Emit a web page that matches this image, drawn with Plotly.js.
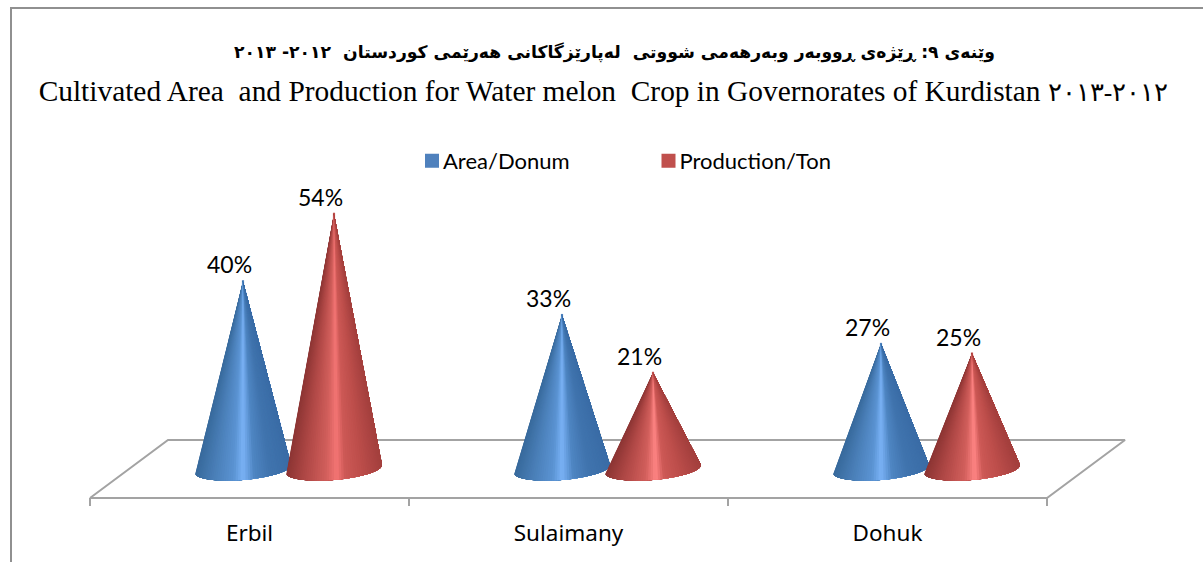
<!DOCTYPE html>
<html><head><meta charset="utf-8">
<script src="https://cdn.plot.ly/plotly-3.0.1.min.js"></script>
<style>html,body{margin:0;padding:0;background:#fff;overflow:hidden}</style>
</head><body><div id="chart" style="width:1203px;height:562px"></div>
<script>
const categories = ['Erbil', 'Sulaimany', 'Dohuk'];
const areaValues = [40, 33, 27];
const productionValues = [54, 21, 25];
const seriesNames = ['Area/Donum', 'Production/Ton'];
const titleKurdish = 'وێنەی ٩: ڕێژەی ڕووبەر وبەرهەمی شووتی\u00A0\u00A0لەپارێزگاکانی هەرێمی کوردستان\u00A0\u00A0٢٠١٢- ٢٠١٣';
const titleEnglish = 'Cultivated Area\u00A0\u00A0and Production for Water melon\u00A0\u00A0Crop in Governorates of Kurdistan <span style="font-size:25.5px">٢٠١٢-٢٠١٣</span>';

const W = 1203, H = 562;
const pxPerCat = 319, pxPerVal = 4.82;
const x0px = 90, zeroPx = 474;
const L = 30, R = 1180, T = 190, B = 510;
const xRange = [(L - x0px) / pxPerCat, (R - x0px) / pxPerCat];
const yRange = [(zeroPx - B) / pxPerVal, (zeroPx - T) / pxPerVal];

const slots = [153 / pxPerCat, 244 / pxPerCat];
const halfW = 48 / pxPerCat, ellB = 11 / pxPerVal, ellTilt = 4 / pxPerVal, baseVal = 5 / pxPerVal;

const ramps = [
  [[0,'#3a6ca6'],[0.22,'#4074ae'],[0.38,'#4e85c2'],[0.5,'#7ab2f6'],[0.6,'#5a93d2'],[0.8,'#4a7fb8'],[1,'#386a9c']],
  [[0,'#a33f3d'],[0.22,'#bd4e4b'],[0.38,'#cc5855'],[0.47,'#f47574'],[0.58,'#d25f5c'],[0.8,'#b04846'],[1,'#8c3534']],
  [[0,'#a33f3d'],[0.22,'#bd4e4b'],[0.38,'#cc5855'],[0.47,'#ff8584'],[0.58,'#d25f5c'],[0.8,'#b04846'],[1,'#8c3534']]
];
function hex(c){return [1,3,5].map(i=>parseInt(c.substr(i,2),16));}
function colorAt(r,f){
  for(let i=1;i<r.length;i++){ if(f<=r[i][0]){
    const a=hex(r[i-1][1]),b=hex(r[i][1]),k=(f-r[i-1][0])/(r[i][0]-r[i-1][0]);
    return 'rgb('+a.map((v,j)=>Math.round(v+(b[j]-v)*k)).join(',')+')';
  }}
  return r[r.length-1][1];
}
const line = {color:'#a3a3a3', width:2};
const traces = [];
const depthX = 78 / pxPerCat, frontV = (zeroPx - 498) / pxPerVal, backV = (zeroPx - 440) / pxPerVal;
const n = categories.length;
traces.push({type:'scatter',mode:'lines',x:[0,depthX,n+depthX,n,0],y:[frontV,backV,backV,frontV,frontV],line,showlegend:false,hoverinfo:'skip'});
for(let i=0;i<=n;i++){
  traces.push({type:'scatter',mode:'lines',x:[i,i],y:[frontV,frontV-8/pxPerVal],line,showlegend:false,hoverinfo:'skip'});
}
const series = [areaValues, productionValues];
const swatch = ['#4f81bd','#c0504d'];
series.forEach((vals,s)=>{
  traces.push({type:'bar',name:seriesNames[s],x:vals.map((v,i)=>i+slots[s]),y:vals,width:0.0005,
    marker:{color:swatch[s],line:{color:swatch[s],width:2}},hoverinfo:'skip'});
});
const STRIPS = 60;
series.forEach((vals,s)=>{
  vals.forEach((v,i)=>{
    const cx = i + slots[s];
    const ramp = (s===1 && v<30) ? ramps[2] : ramps[s];
    for(let k=0;k<STRIPS;k++){
      // each slice reaches the far edge, the next one paints over it: no seams
      const xs=[cx], ys=[v];
      for(let j=k;j<=STRIPS;j+=1){
        const t = Math.PI*(1 - j/STRIPS);
        xs.push(cx+halfW*Math.cos(t));
        ys.push(baseVal - ellB*Math.sin(t) + ellTilt*Math.cos(t));
      }
      xs.push(cx); ys.push(v);
      const f = (1-Math.cos(Math.PI*(1-(k+0.5)/STRIPS)))/2;
      traces.push({type:'scatter',mode:'lines',x:xs,y:ys,fill:'toself',fillcolor:colorAt(ramp,f),
        line:{width:0},showlegend:false,hoverinfo:'skip'});
    }
  });
});
const annotations = [];
series.forEach((vals,s)=>vals.forEach((v,i)=>annotations.push({
  x:i+slots[s],y:v,text:v+'%',showarrow:false,xshift:-14,yanchor:'bottom',yshift:1,
  font:{family:'Lato, sans-serif',size:23,color:'#000'}
})));
annotations.push({xref:'paper',yref:'paper',xanchor:'center',yanchor:'middle',
  x:(615-L)/(R-L),y:(B-52)/(B-T),text:titleKurdish,showarrow:false,
  font:{family:'"DejaVu Sans", sans-serif',size:17.2,color:'#000',weight:700}});

const px=v=>(v-L)/(R-L), py=v=>(B-v)/(B-T);
const shapes=[
 {type:'line',xref:'paper',yref:'paper',x0:px(10),x1:px(1203),y0:py(8),y1:py(8),line:{color:'#909090',width:2}},
 {type:'line',xref:'paper',yref:'paper',x0:px(11),x1:px(11),y0:py(8),y1:py(562),line:{color:'#909090',width:2}}
];
const layout={
  width:W,height:H,paper_bgcolor:'#fff',plot_bgcolor:'rgba(0,0,0,0)',
  margin:{l:L,r:W-R,t:T,b:H-B,pad:0},
  title:{text:titleEnglish,x:603.5/W,xanchor:'center',y:1-91/H,yanchor:'middle',
    font:{family:'"Liberation Serif", serif',size:29.4,color:'#000'}},
  xaxis:{range:xRange,showgrid:false,zeroline:false,showline:false,ticks:'',
    tickmode:'array',tickvals:categories.map((c,i)=>i+0.5),ticktext:categories,ticklabelstandoff:7,
    tickfont:{family:'"Noto Sans", sans-serif',size:22.5,color:'#000'}},
  yaxis:{range:yRange,visible:false},
  barmode:'overlay',showlegend:true,
  legend:{orientation:'h',x:(403-L)/(R-L),xanchor:'left',y:py(161),yanchor:'middle',
    entrywidth:191.5,entrywidthmode:'pixels',traceorder:'normal',
    font:{family:'Lato, sans-serif',size:22,color:'#000'},bgcolor:'rgba(0,0,0,0)'},
  annotations,shapes
};
Plotly.newPlot('chart',traces,layout,{displayModeBar:false,responsive:false}).then(()=>{
  // tighten the gap between legend swatch and its label
  document.querySelectorAll('.legend .legendpoints').forEach(g=>g.setAttribute('transform','translate(9,0)'));
});
</script></body></html>
